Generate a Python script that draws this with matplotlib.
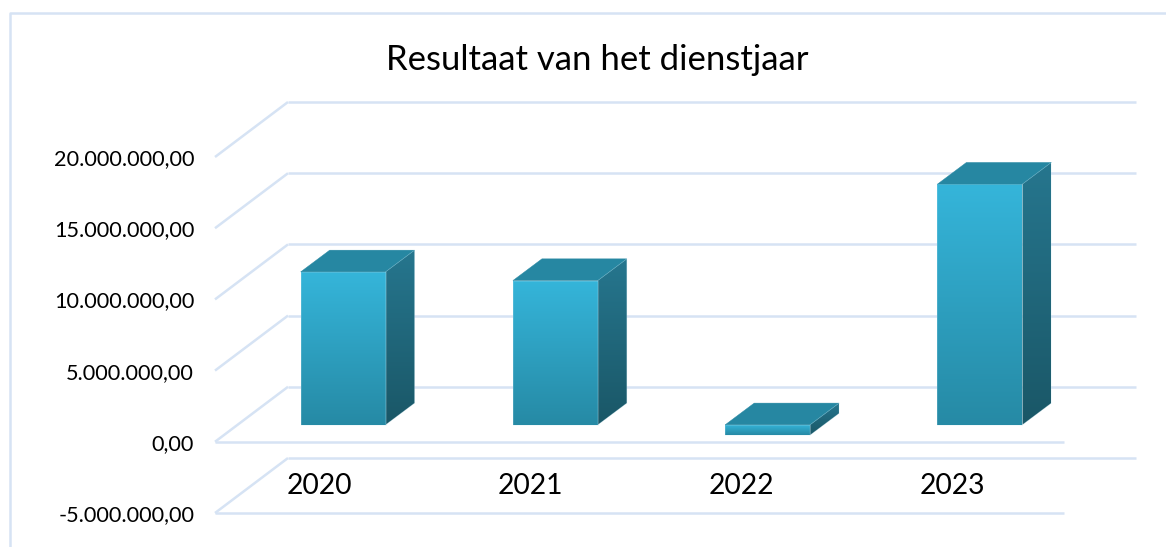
import matplotlib
matplotlib.use("Agg")
import numpy as np
import matplotlib.pyplot as plt
from matplotlib.patches import Polygon
from matplotlib.transforms import IdentityTransform
from matplotlib.colors import LinearSegmentedColormap

plt.rcParams['font.family'] = ['Lato', 'DejaVu Sans']

# === DATA ===
TITLE = "Resultaat van het dienstjaar"
years = ["2020", "2021", "2022", "2023"]
results = [10740000, 10130000, -720000, 16900000]
y_ticks = [-5000000, 0, 5000000, 10000000, 15000000, 20000000]
y_labels = ["-5.000.000,00", "0,00", "5.000.000,00", "10.000.000,00", "15.000.000,00", "20.000.000,00"]

GRID = '#D6E3F4'
TOP = '#2687A2'
EDGE = '#BFE3EF'
front_cmap = LinearSegmentedColormap.from_list('front', ['#268AA5', '#35B5DA'])
side_cmap = LinearSegmentedColormap.from_list('side', ['#1A5767', '#26768E'])

W, H = 1166, 547
fig = plt.figure(figsize=(W / 100, H / 100), dpi=100, facecolor='white')

# front plane of the fake 3d box, in pixels
ax = fig.add_axes([215 / W, 1 - 513 / H, (1064 - 215) / W, (513 - 157) / H])
ax.set_xlim(-0.5, 3.5)
ax.set_ylim(-5000000, 20000000)
ax.set_autoscale_on(False)
ax.patch.set_visible(False)
for s in ax.spines.values():
    s.set_visible(False)

# pixel offsets for the depth
BACK = (73, 55)
BAR_FRONT = (22, 17)
BAR_DEPTH = (29, 21.7)
BAR_W = 0.4
BACK_RIGHT = 72

px = IdentityTransform()

def pt(x, y, off=(0, 0)):
    p = ax.transData.transform((x, y))
    return p[0] + off[0], p[1] + off[1]

def line(a, b):
    ax.plot([a[0], b[0]], [a[1], b[1]], color=GRID, lw=1.8, transform=px,
            clip_on=False, zorder=1, solid_capstyle='butt')

# === GRID ===
for v in y_ticks:
    a = pt(-0.5, v)
    b = pt(-0.5, v, BACK)
    line(a, b)
    line(b, pt(3.5, v, (BACK_RIGHT, BACK[1])))
    if v <= 0:
        line(a, pt(3.5, v))

# === BARS ===
def grad_face(verts, cmap, z):
    xs = [p[0] for p in verts]
    ys = [p[1] for p in verts]
    # display coords, so image row 0 sits at the bottom
    im = ax.imshow(np.linspace(0, 1, 128).reshape(-1, 1), cmap=cmap, vmin=0, vmax=1,
                   origin='lower', aspect='auto', interpolation='bilinear',
                   extent=(min(xs), max(xs), min(ys), max(ys)), transform=px,
                   zorder=z, clip_on=True)
    clip = Polygon(verts, closed=True, transform=px, facecolor='none', edgecolor='none')
    ax.add_patch(clip)
    im.set_clip_path(clip)
    ax.add_patch(Polygon(verts, closed=True, transform=px, facecolor='none',
                         edgecolor=EDGE, lw=0.5, alpha=0.3, zorder=z + 0.1, clip_on=False))

for i, val in enumerate(results):
    hi = max(val, 0)
    lo = min(val, 0)
    x0 = i - BAR_W / 2
    x1 = i + BAR_W / 2
    fl = pt(x0, lo, BAR_FRONT)
    fr = pt(x1, lo, BAR_FRONT)
    tl = pt(x0, hi, BAR_FRONT)
    tr = pt(x1, hi, BAR_FRONT)
    dd = BAR_DEPTH
    ftr = (tr[0] + dd[0], tr[1] + dd[1])
    ftl = (tl[0] + dd[0], tl[1] + dd[1])
    fbr = (fr[0] + dd[0], fr[1] + dd[1])
    grad_face([fl, fr, tr, tl], front_cmap, 3)
    grad_face([fr, fbr, ftr, tr], side_cmap, 3)
    ax.add_patch(Polygon([tl, tr, ftr, ftl], closed=True, transform=px, facecolor=TOP,
                         edgecolor=TOP, lw=0.3, zorder=3, clip_on=False))

# === TEXT ===
ax.set_yticks(y_ticks)
ax.set_yticklabels(y_labels, fontsize=15.6, color='black')
ax.set_xticks([])
ax.tick_params(axis='y', length=0, pad=15)

for i, yr in enumerate(years):
    ax.annotate(yr, (i, 0), xytext=(-1.5 - 0.75 * i, -31.5), textcoords='offset points',
                ha='center', va='center', fontsize=20.3, color='black')

fig.text(597.5 / W, 1 - 60.5 / H, TITLE, ha='center', va='center', fontsize=25, color='black')

# outer frame, left and top only
fig.add_artist(plt.Line2D([9.5 / W, 9.5 / W, 1], [0, 1 - 13 / H, 1 - 13 / H], color=GRID, lw=1.8))

fig.savefig('out.png', dpi=100, facecolor='white')
